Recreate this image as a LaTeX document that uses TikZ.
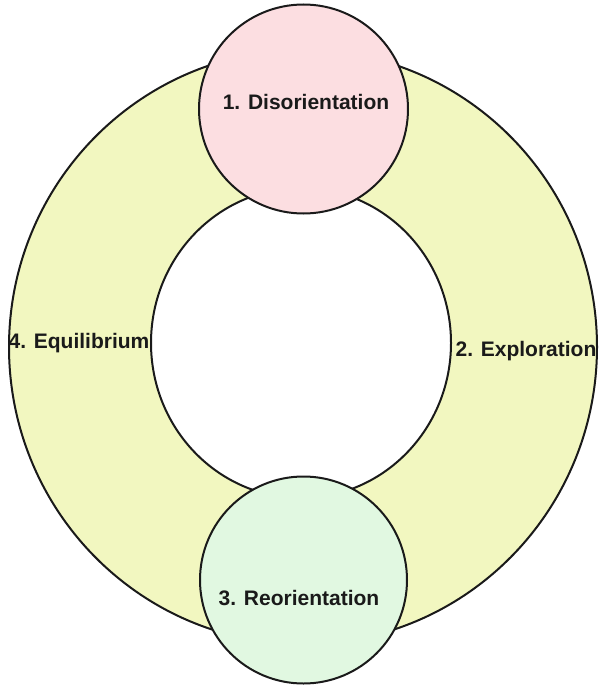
\documentclass[tikz,border=0pt]{standalone}
\usepackage{fontspec}
\setmainfont{Liberation Sans}
\definecolor{ringfill}{RGB}{242,247,192}
\definecolor{pinkfill}{RGB}{252,222,225}
\definecolor{greenfill}{RGB}{225,248,225}
\definecolor{ink}{RGB}{26,26,26}
\tikzset{
  edge/.style={draw=ink, line width=2pt},
  stage/.style={circle, edge, minimum size=#1, inner sep=0pt},
  lbl/.style={text=ink, font=\fontsize{21}{25}\selectfont\bfseries, inner sep=0pt}
}
\begin{document}
\begin{tikzpicture}[x=1pt, y=-1pt]
\useasboundingbox (0,0) rectangle (598,685);
% ring
\path[edge, fill=ringfill, even odd rule]
  (303,347) ellipse [x radius=294pt, y radius=297pt]
  (301,343) ellipse [x radius=150pt, y radius=155pt];
% stage circles
\node[stage=209pt, fill=pinkfill] (dis) at (303.5,109) {};
\node[stage=207pt, fill=greenfill] (reo) at (303.5,580) {};
% labels
\node[lbl] (l1) at (306,102) {1. Disorientation};
\node[lbl] (l2) at (526,351) {2. Exploration};
\node[lbl] (l3) at (299,598) {3. Reorientation};
\node[lbl] (l4) at (79,343) {4. Equilibrium};
\end{tikzpicture}
\end{document}
